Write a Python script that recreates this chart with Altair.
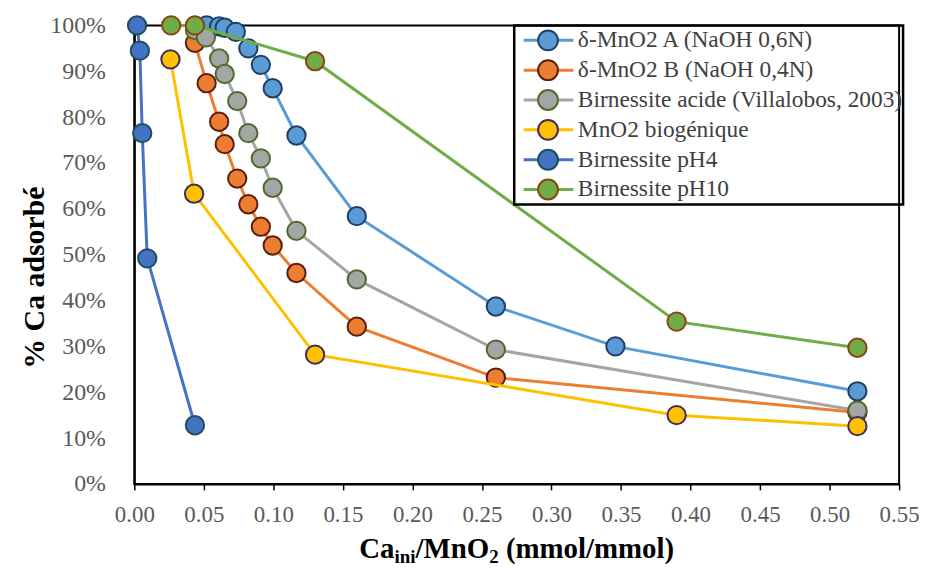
import altair as alt
import pandas as pd

# ---------------- data ----------------
series_names = [
    "δ-MnO2 A (NaOH 0,6N)",
    "δ-MnO2 B (NaOH 0,4N)",
    "Birnessite acide (Villalobos, 2003)",
    "MnO2 biogénique",
    "Birnessite pH4",
    "Birnessite pH10",
]
line_colors = ["#5B9BD5", "#ED7D31", "#A5A5A5", "#FFC000", "#4472C4", "#70AD47"]
fill_colors = ["#5B9BD5", "#ED7D31", "#A5A5A5", "#FFC000", "#4472C4", "#70AD47"]
edge_colors = ["#1F3F66", "#5A1E0E", "#4E6B2E", "#3A2E5C", "#1F4E5F", "#8B4513"]

x_a = [0.052, 0.061, 0.065, 0.073, 0.082, 0.091, 0.0995, 0.1166, 0.160, 0.260, 0.346, 0.520]
y_a = [100.0, 99.8, 99.5, 98.6, 95.0, 91.4, 86.3, 76.0, 58.4, 38.7, 30.0, 20.2]

x_b = [0.0436, 0.052, 0.061, 0.065, 0.074, 0.082, 0.091, 0.0995, 0.1166, 0.160, 0.260, 0.520]
y_b = [96.2, 87.4, 79.0, 74.1, 66.6, 61.0, 56.1, 52.0, 46.0, 34.3, 23.2, 15.6]

x_acide = [0.0436, 0.0515, 0.061, 0.065, 0.074, 0.082, 0.091, 0.0995, 0.1166, 0.160, 0.260, 0.520]
y_acide = [99.0, 97.4, 92.8, 89.4, 83.5, 76.5, 71.0, 64.6, 55.2, 44.6, 29.3, 16.0]

x_bio = [0.026, 0.043, 0.130, 0.390, 0.520]
y_bio = [92.6, 63.3, 28.2, 15.0, 12.6]

x_ph4 = [0.002, 0.004, 0.0057, 0.0093, 0.0436]
y_ph4 = [100.0, 94.5, 76.5, 49.2, 12.8]

x_ph10 = [0.0265, 0.0436, 0.130, 0.390, 0.520]
y_ph10 = [100.0, 100.0, 92.2, 35.4, 29.7]

x_ticks = [0.00, 0.05, 0.10, 0.15, 0.20, 0.25, 0.30, 0.35, 0.40, 0.45, 0.50, 0.55]
y_ticks = [0, 10, 20, 30, 40, 50, 60, 70, 80, 90, 100]

x_title_parts = ["Ca", "ini", "/MnO", "2", "(mmol/mmol)"]
y_title = "% Ca adsorbé"

all_x = [x_a, x_b, x_acide, x_bio, x_ph4, x_ph10]
all_y = [y_a, y_b, y_acide, y_bio, y_ph4, y_ph10]

PT_SUFFIX = "\u200b"  # keeps the marker legend separate from the line legend
rows = []
for name, xs, ys in zip(series_names, all_x, all_y):
    for i, (xv, yv) in enumerate(zip(xs, ys)):
        rows.append({"series": name, "series_pt": name + PT_SUFFIX, "idx": i, "x": xv, "y": yv})
df = pd.DataFrame(rows)
pt_domain = [n + PT_SUFFIX for n in series_names]

# ---------------- encodings ----------------
FONT = "Liberation Serif"

x_enc = alt.X("x:Q", scale=alt.Scale(domain=[0, 0.55], nice=False, zero=False),
              axis=alt.Axis(values=x_ticks, format=".2f", title=None, labelFlush=False))
y_enc = alt.Y("y:Q", scale=alt.Scale(domain=[0, 100], nice=False),
              axis=alt.Axis(values=y_ticks, labelExpr="datum.value + '%'", title=y_title,
                            titleX=-91, titleY=253, titleAngle=270, titleAlign="center",
                            titleBaseline="alphabetic"))

LEG_X, LEG_Y = 382, 0
LEG_FS = 23.5
line_legend = alt.Legend(
    orient="none", legendX=LEG_X, legendY=LEG_Y, title=None,
    symbolType="M-0.733,0H-0.233M0.433,0H0.933",
    symbolSize=3600, symbolStrokeWidth=3, clipHeight=30, rowPadding=0,
    padding=0, labelOffset=1, labelFont=FONT, labelFontSize=LEG_FS, labelColor="#404040",
    labelLimit=420, strokeColor="black",
)
pt_legend = alt.Legend(
    orient="none", legendX=LEG_X, legendY=LEG_Y, title=None,
    symbolType="M-0.233,0A0.333,0.333,0,1,1,0.433,0A0.333,0.333,0,1,1,-0.233,0Z",
    symbolSize=3600, symbolStrokeWidth=2, clipHeight=30, rowPadding=0,
    padding=0, labelOffset=1, labelFont=FONT, labelFontSize=LEG_FS,
    labelColor="rgba(0,0,0,0)", labelLimit=420,
)

color_enc = alt.Color("series:N", scale=alt.Scale(domain=series_names, range=line_colors),
                      legend=line_legend)
fill_enc = alt.Fill("series_pt:N", scale=alt.Scale(domain=pt_domain, range=fill_colors),
                    legend=pt_legend)
stroke_enc = alt.Stroke("series_pt:N", scale=alt.Scale(domain=pt_domain, range=edge_colors),
                        legend=pt_legend)

layers = []
for name in series_names:
    base = alt.Chart(df).transform_filter(alt.datum.series == name)
    layers.append(base.mark_line(strokeWidth=3).encode(
        x=x_enc, y=y_enc, color=color_enc, order="idx:Q"))
    layers.append(base.mark_point(filled=True, size=340, strokeWidth=2, opacity=1).encode(
        x=x_enc, y=y_enc, fill=fill_enc, stroke=stroke_enc))

# x-axis title with subscripts, built from text pieces
BIG, SMALL = 29, 19
part_sizes = [BIG, SMALL, BIG, SMALL, BIG]
part_em = [1.222, 1.112, 2.556, 0.5, 5.832]
gaps_before = [0, 0, 0, 0, 0.25 * BIG]
widths = [e * s for e, s in zip(part_em, part_sizes)]
x0 = 769 / 2 - (sum(widths) + sum(gaps_before)) / 2
base_y = 535
xpos = x0
for part, size, w, g in zip(x_title_parts, part_sizes, widths, gaps_before):
    xpos += g
    dy = 0 if size == BIG else 6
    layers.append(
        alt.Chart(pd.DataFrame({"t": [part]})).mark_text(
            align="left", baseline="alphabetic", font=FONT, fontSize=size,
            fontWeight="bold", color="black"
        ).encode(x=alt.value(xpos), y=alt.value(base_y + dy), text="t:N")
    )
    xpos += w

chart = alt.layer(*layers).properties(
    width=769, height=461,
    autosize=alt.AutoSizeParams(type="none"),
    padding={"left": 127, "top": 16, "right": 20, "bottom": 81},
).configure_view(
    stroke="black", strokeWidth=2
).configure_legend(
    strokeWidth=2.5
).configure_axis(
    grid=False, domainColor="black", domainWidth=2,
    labelFont=FONT, labelColor="#595959",
    titleFont=FONT, titleFontSize=30, titleFontWeight="bold", titleColor="black",
).configure_axisX(
    tickColor="black", tickSize=6, tickWidth=1.5, labelFontSize=23, labelPadding=14,
).configure_axisY(
    ticks=False, labelFontSize=24, labelPadding=29,
)

chart.save("out.html", embed_options={"renderer": "svg", "actions": False})
